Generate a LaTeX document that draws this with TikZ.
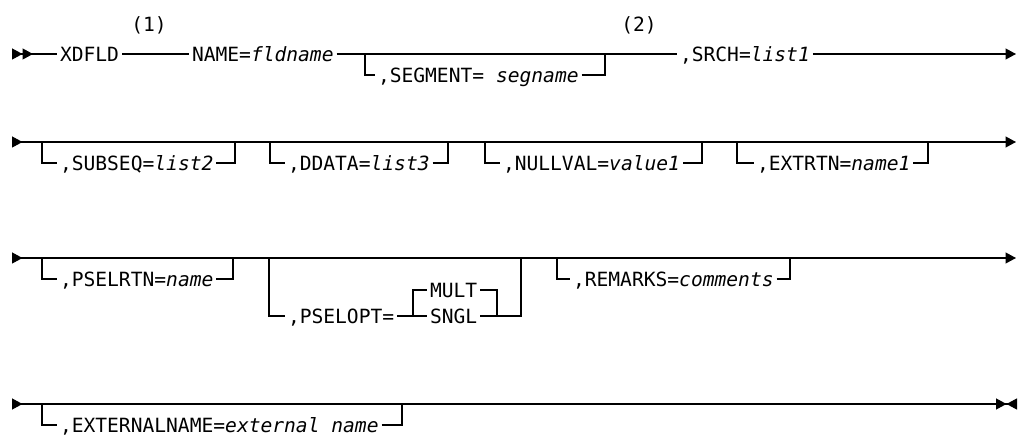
\documentclass[tikz,border=0pt]{standalone}
\usepackage{fontspec}
\setmainfont{DejaVu Sans Mono}[ItalicFont={DejaVu Sans Mono Oblique}]
\usetikzlibrary{arrows.meta,positioning}

\begin{document}
\begin{tikzpicture}[
  x=1pt,y=-1pt,
  font=\fontsize{19.6}{22}\selectfont,
  tri/.tip={Triangle[length=10.5pt,width=11pt,sep=0pt]},
  rail/.style={line width=1.2pt,black},
  kw/.style={anchor=west,inner xsep=3pt,inner ysep=0pt,outer sep=0pt,text height=14.4pt,text depth=0pt},
  note/.style={inner sep=0pt,text height=14.4pt,text depth=0pt}
]
\useasboundingbox (0,0) rectangle (1021,443);

% row 1
\coordinate (s1) at (12,54);
\coordinate (e1) at (1016,54);
\coordinate (a11) at (365,54);
\coordinate (b11) at (605,54);
\node[kw] (xdfld) at (57,54) {XDFLD};
\node[kw] (name) at (189,54) {NAME=\textit{fldname}};
\node[kw] (seg) at (375,75) {,SEGMENT= \textit{segname}};
\node[kw] (srch) at (677,54) {,SRCH=\textit{list1}};
\node[note] (n1) at (149,24) {(1)};
\node[note] (n2) at (639,24) {(2)};

\draw[rail,{tri[reversed] tri[reversed]}-] (s1) -- (xdfld);
\draw[rail] (xdfld) -- (name);
\draw[rail] (name) -- (srch);
\draw[rail,-tri] (srch) -- (e1);
\draw[rail] (a11) |- (seg.west);
\draw[rail] (seg.east) -| (b11);

% row 2
\coordinate (s2) at (12,142);
\coordinate (e2) at (1016,142);
\coordinate (a21) at (42,142);
\coordinate (b21) at (235,142);
\coordinate (a22) at (270,142);
\coordinate (b22) at (448,142);
\coordinate (a23) at (485,142);
\coordinate (b23) at (702,142);
\coordinate (a24) at (737,142);
\coordinate (b24) at (928,142);
\node[kw] (subseq) at (57,163) {,SUBSEQ=\textit{list2}};
\node[kw] (ddata) at (285,163) {,DDATA=\textit{list3}};
\node[kw] (nullval) at (500,163) {,NULLVAL=\textit{value1}};
\node[kw] (extrtn) at (754,163) {,EXTRTN=\textit{name1}};

\draw[rail,{tri[reversed]}-tri] (s2) -- (e2);
\draw[rail] (a21) |- (subseq.west);
\draw[rail] (subseq.east) -| (b21);
\draw[rail] (a22) |- (ddata.west);
\draw[rail] (ddata.east) -| (b22);
\draw[rail] (a23) |- (nullval.west);
\draw[rail] (nullval.east) -| (b23);
\draw[rail] (a24) |- (extrtn.west);
\draw[rail] (extrtn.east) -| (b24);

% row 3
\coordinate (s3) at (12,258);
\coordinate (e3) at (1016,258);
\coordinate (a31) at (42,258);
\coordinate (b31) at (233,258);
\coordinate (a32) at (269,258);
\coordinate (b32) at (521,258);
\coordinate (c31) at (413,316);
\coordinate (c32) at (497,316);
\coordinate (a33) at (557,258);
\coordinate (b33) at (790,258);
\node[kw] (pselrtn) at (57,279) {,PSELRTN=\textit{name}};
\node[kw] (pselopt) at (285,316) {,PSELOPT=};
\node[kw] (mult) at (427,290) {MULT};
\node[kw] (sngl) at (427,316) {SNGL};
\node[kw] (remarks) at (570,279) {,REMARKS=\textit{comments}};

\draw[rail,{tri[reversed]}-tri] (s3) -- (e3);
\draw[rail] (a31) |- (pselrtn.west);
\draw[rail] (pselrtn.east) -| (b31);
\draw[rail] (a32) |- (pselopt.west);
\draw[rail] (pselopt) -- (sngl);
\draw[rail] (sngl.east) -| (b32);
\draw[rail] (c31) |- (mult.west);
\draw[rail] (mult.east) -| (c32);
\draw[rail] (a33) |- (remarks.west);
\draw[rail] (remarks.east) -| (b33);

% row 4
\coordinate (s4) at (12,404);
\coordinate (e4) at (1017,404);
\coordinate (a41) at (42,404);
\coordinate (b41) at (402,404);
\coordinate (d41) at (407,404);
\coordinate (d42) at (430,404);
\node[kw] (extname) at (57,425) {,EXTERNALNAME=\textit{external name}};

\draw[rail,{tri[reversed]}-{tri[] tri[reversed]}] (s4) -- (e4);
\draw[rail] (a41) |- (extname.west);
\draw[rail] (extname.east) -| (b41);
\draw[rail,line width=2.4pt] (d41) -- (d42);
\end{tikzpicture}
\end{document}
